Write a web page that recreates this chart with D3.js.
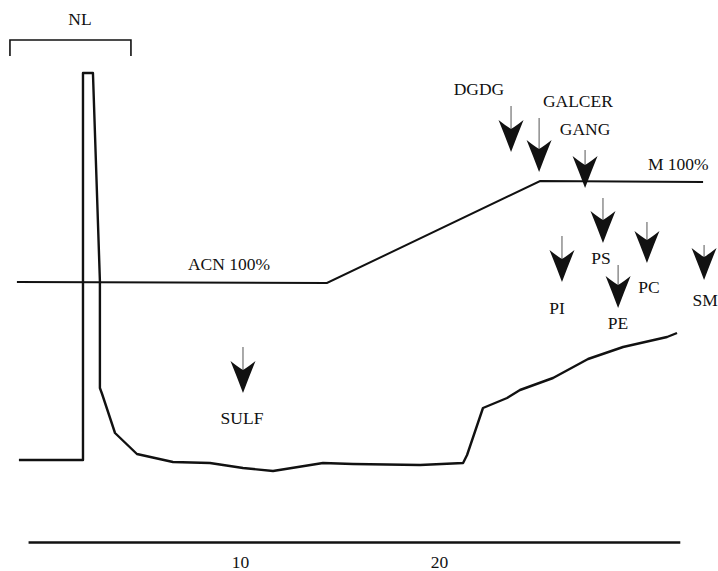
<!DOCTYPE html>
<html>
<head>
<meta charset="utf-8">
<script src="https://cdn.jsdelivr.net/npm/d3@7"></script>
<style>
  html, body { margin: 0; padding: 0; background: #fff; }
  svg text { font-family: "Liberation Serif", "Times New Roman", serif; fill: #111; }
</style>
</head>
<body>
<svg id="chart" width="718" height="571"></svg>
<script>
// ---- Data (time in minutes, signal in arbitrary units) ----
const traceTime  = [-1.11, 2.11, 2.11, 2.61, 2.96, 2.96, 3.07, 3.72, 4.82, 6.63, 8.49, 10.15, 11.66, 14.17, 15.68, 19.05, 21.21, 21.41, 22.21, 23.42, 24.07, 25.73, 27.49, 29.25, 31.46, 31.96];
const traceValue = [16.4, 16.4, 93.8, 93.8, 52.2, 30.8, 29.6, 21.8, 17.6, 16.0, 15.8, 14.8, 14.2, 15.8, 15.6, 15.4, 15.8, 17.4, 26.8, 28.8, 30.4, 32.8, 36.6, 39.0, 41.0, 41.8];

const gradientTime  = [-1.21, 14.37, 25.08, 33.27];
const gradientValue = [52.0, 51.8, 72.2, 72.0];

const axisTicks = [10, 20];

const arrowNames     = ["DGDG", "GALCER", "GANG", "PS", "PI", "PC", "PE", "SM", "SULF"];
const arrowTime      = [23.62, 25.03, 27.34, 28.24, 26.18, 30.45, 29.00, 33.32, 10.15];
const arrowTip       = [78.0, 74.0, 70.8, 59.8, 52.0, 55.8, 46.8, 52.4, 29.8];
const arrowShaftTop  = [87.2, 84.8, 78.4, 68.8, 61.2, 64.0, 55.4, 59.4, 39.0];
const labelTime      = [22.01, 26.98, 27.34, 28.14, 25.93, 30.55, 28.99, 33.37, 10.10];
const labelValue     = [89.4, 87.0, 81.4, 55.6, 45.6, 49.8, 42.6, 47.2, 23.6];

const gradientLabels = ["ACN 100%", "M 100%"];
const gradientLabelTime  = [9.45, 30.50];
const gradientLabelValue = [54.4, 74.4];

const bracketLabel = "NL";
const bracketStart = -1.56, bracketEnd = 4.52, bracketTop = 100.4, bracketFoot = 97.2;
const bracketLabelTime = 1.96, bracketLabelValue = 103.4;

const axisStart = -0.65, axisEnd = 32.1;

// ---- Scales ----
const x = d3.scaleLinear().domain([0, 30]).range([41, 638]);
const y = d3.scaleLinear().domain([0, 100]).range([542, 42]);

const svg = d3.select("#chart");
const FS = 17.5;

// ---- Axis ----
const axisScale = d3.scaleLinear().domain([axisStart, axisEnd]).range([x(axisStart), x(axisEnd)]);
const axisG = svg.append("g")
  .attr("transform", `translate(0,${y(0)})`)
  .call(d3.axisBottom(axisScale).tickValues(axisTicks).tickSize(0).tickSizeOuter(0).tickPadding(14).tickFormat(d3.format("d")));
axisG.select(".domain").attr("stroke", "#111").attr("stroke-width", 2.4);
axisG.selectAll("text").attr("font-size", FS).attr("font-family", "Liberation Serif").attr("fill", "#111");

// ---- Gradient line ----
const line = d3.line().x(d => x(d[0])).y(d => y(d[1]));
svg.append("path")
  .datum(d3.zip(gradientTime, gradientValue))
  .attr("d", line).attr("fill", "none").attr("stroke", "#111").attr("stroke-width", 2);

// ---- Detector trace ----
svg.append("path")
  .datum(d3.zip(traceTime, traceValue))
  .attr("d", line).attr("fill", "none").attr("stroke", "#111")
  .attr("stroke-width", 2.4).attr("stroke-linejoin", "round");

// ---- NL bracket ----
svg.append("path")
  .attr("d", `M${x(bracketStart)},${y(bracketFoot)} V${y(bracketTop)} H${x(bracketEnd)} V${y(bracketFoot)}`)
  .attr("fill", "none").attr("stroke", "#111").attr("stroke-width", 1.6);
svg.append("text").attr("x", x(bracketLabelTime)).attr("y", y(bracketLabelValue))
  .attr("text-anchor", "middle").attr("font-size", FS).text(bracketLabel);

// ---- Gradient labels ----
svg.selectAll("text.grad").data(gradientLabels).join("text").attr("class", "grad")
  .attr("x", (d, i) => x(gradientLabelTime[i]))
  .attr("y", (d, i) => y(gradientLabelValue[i]))
  .attr("text-anchor", (d, i) => i === 0 ? "middle" : "start")
  .attr("font-size", FS).text(d => d);

// ---- Arrows ----
const HEAD_H = 32, HEAD_W = 12.5, NOTCH = 23;
const arrows = svg.selectAll("g.arrow").data(arrowNames).join("g").attr("class", "arrow")
  .attr("transform", (d, i) => `translate(${x(arrowTime[i])},${y(arrowTip[i])})`);
arrows.append("line")
  .attr("x1", 0).attr("x2", 0)
  .attr("y1", (d, i) => y(arrowShaftTop[i]) - y(arrowTip[i]))
  .attr("y2", -NOTCH + 2)
  .attr("stroke", "#555").attr("stroke-width", 1);
arrows.append("path")
  .attr("d", `M0,0 Q-6,-16 ${-HEAD_W},${-HEAD_H} Q-5,-26 0,${-NOTCH} Q5,-26 ${HEAD_W},${-HEAD_H} Q6,-16 0,0 Z`)
  .attr("fill", "#111");

svg.selectAll("text.alabel").data(arrowNames).join("text").attr("class", "alabel")
  .attr("x", (d, i) => x(labelTime[i]))
  .attr("y", (d, i) => y(labelValue[i]))
  .attr("text-anchor", "middle").attr("font-size", FS).text(d => d);
</script>
</body>
</html>
